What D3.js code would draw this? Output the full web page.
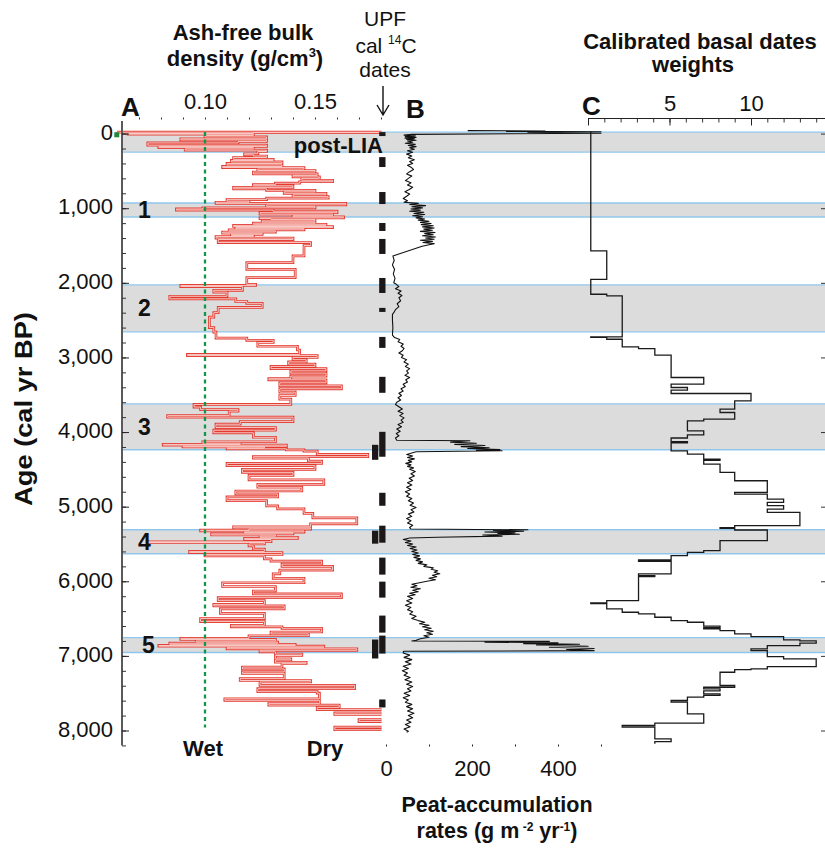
<!DOCTYPE html>
<html><head><meta charset="utf-8">
<script src="https://cdn.jsdelivr.net/npm/d3@7"></script>
<style>
body{margin:0;background:#fff;}
svg{display:block;font-family:"Liberation Sans",Arial,Helvetica,sans-serif;}
</style></head><body>
<svg id="chart" width="825" height="848"></svg>
<script>
// ---------------- DATA ----------------
const ageTicks = [0,1000,2000,3000,4000,5000,6000,7000,8000];
const densityTicks = [0.07,0.08,0.09,0.10,0.11,0.12,0.13,0.14,0.15,0.16,0.17,0.18];
const densityTickLabels = [0.10,0.15];
const rateTicks = [0,100,200,300,400,500];
const rateTickLabels = [0,200,400];
const weightTicks = [0,1,2,3,4,5,6,7,8,9,10,11,12,13,14];
const weightTickLabels = [5,10];
const wetDryThreshold = 0.10;

const bandNames = ["post-LIA","1","2","3","4","5"];
const bandStart = [-20, 930, 2028, 3622, 5310, 6755];
const bandEnd   = [248, 1118, 2657, 4238, 5631, 6955];

// [age cal yr BP, ash-free bulk density g/cm3] (step profile)
const bulkDensity = [
[-22,0.060],[-19,0.190],[-12,0.122],[-2,0.065],[8,0.122],[25,0.100],[45,0.128],[70,0.089],[85,0.128],[105,0.115],[125,0.074],[155,0.128],[172,0.079],[188,0.122],[205,0.091],[222,0.128],[240,0.124],
[270,0.118],[285,0.122],[300,0.128],[320,0.113],[345,0.131],[360,0.112],[380,0.135],[400,0.110],[420,0.135],[440,0.108],[455,0.145],[475,0.124],[495,0.150],[515,0.122],[540,0.151],[560,0.140],[580,0.152],[600,0.144],[625,0.158],[645,0.143],[665,0.132],[685,0.122],[700,0.140],[720,0.113],[740,0.128],[760,0.150],[780,0.136],[800,0.155],[820,0.140],[845,0.156],[865,0.128],[885,0.110],[905,0.120],
[920,0.105],[935,0.164],[955,0.128],[975,0.150],[995,0.099],[1010,0.087],[1025,0.131],[1040,0.160],[1060,0.125],[1080,0.158],[1100,0.140],[1115,0.163],[1130,0.125],
[1140,0.130],[1150,0.150],[1170,0.126],[1185,0.150],[1200,0.122],[1215,0.155],[1230,0.113],[1245,0.158],[1260,0.114],[1275,0.145],[1290,0.111],[1305,0.132],[1320,0.108],[1335,0.126],[1350,0.112],[1365,0.122],[1380,0.105],[1400,0.140],[1420,0.106],[1460,0.148],[1500,0.145],[1640,0.140],[1730,0.119],[1819,0.141],[1931,0.119],[2020,0.123],
[2035,0.089],[2050,0.117],[2100,0.104],[2125,0.110],[2180,0.084],[2215,0.114],[2250,0.119],[2275,0.126],[2330,0.106],[2400,0.104],[2460,0.102],[2600,0.104],[2660,0.105],[2740,0.119],[2770,0.131],[2800,0.124],[2850,0.142],[2900,0.143],[2960,0.092],[2975,0.151],[3000,0.140],[3030,0.146],[3060,0.138],[3090,0.150],[3120,0.130],[3150,0.155],[3180,0.139],
[3210,0.155],[3250,0.139],[3285,0.129],[3300,0.155],[3340,0.134],[3380,0.162],[3420,0.134],[3465,0.141],[3510,0.134],[3560,0.139],
[3630,0.095],[3665,0.098],[3700,0.115],[3720,0.111],[3780,0.083],[3800,0.140],[3860,0.116],[3895,0.105],[3940,0.132],[3975,0.104],[4010,0.122],[4070,0.132],[4130,0.099],[4150,0.116],[4165,0.081],[4175,0.137],[4190,0.090],[4200,0.127],[4215,0.110],[4225,0.137],[4240,0.145],
[4255,0.151],[4300,0.174],[4330,0.122],[4350,0.147],[4390,0.153],[4420,0.110],[4450,0.150],[4500,0.117],[4540,0.140],[4580,0.120],[4640,0.154],[4700,0.124],[4740,0.144],[4790,0.114],[4830,0.133],[4870,0.110],[4920,0.128],[4990,0.133],[5030,0.145],[5090,0.149],[5150,0.169],[5230,0.148],
[5270,0.113],[5285,0.148],[5300,0.120],[5315,0.098],[5325,0.145],[5340,0.118],[5350,0.140],[5365,0.103],[5380,0.132],[5395,0.125],[5410,0.142],[5425,0.118],[5440,0.130],[5470,0.074],[5480,0.127],[5500,0.120],[5525,0.122],[5570,0.127],[5600,0.093],[5615,0.135],[5640,0.100],[5660,0.127],
[5700,0.130],[5730,0.153],[5770,0.135],[5800,0.158],[5850,0.134],[5900,0.131],[5960,0.145],[6020,0.108],[6070,0.132],[6130,0.122],[6170,0.162],[6220,0.106],[6260,0.127],[6310,0.104],[6330,0.136],[6370,0.107],[6430,0.127],[6500,0.098],[6540,0.127],[6590,0.112],[6610,0.135],
[6630,0.153],[6680,0.130],[6705,0.147],[6730,0.120],
[6765,0.089],[6780,0.132],[6800,0.096],[6815,0.133],[6830,0.084],[6845,0.141],[6860,0.079],[6870,0.154],[6890,0.110],[6905,0.169],[6925,0.125],[6945,0.132],
[6975,0.144],[6995,0.132],[7040,0.139],[7055,0.132],[7085,0.146],[7100,0.135],[7150,0.117],[7175,0.136],[7215,0.117],[7235,0.136],[7305,0.116],[7330,0.148],[7350,0.125],[7395,0.168],[7440,0.124],[7480,0.151],[7500,0.152],[7575,0.109],[7595,0.152],[7640,0.129],[7660,0.161],[7690,0.151],[7720,0.185],[7765,0.159],[7785,0.190],[7855,0.170],[7880,0.190],[7955,0.159],[7990,0.190],[8000,0.190]
];

// [age, peat-accumulation rate g m-2 yr-1]
const peatRate = [
[-40,190],[-35,370],[-30,280],[-25,500],[-15,330],[-5,500],[10,60],[20,42],[30,68],[40,45],[50,70],[60,44],[70,66],[80,48],[90,70],[100,50],[115,62],[130,45],[145,68],[160,52],[175,70],[190,55],[210,66],[230,50],[250,62],[275,48],[300,60],[325,52],[350,66],[375,55],[400,62],[425,50],[450,58],[480,64],[510,55],[540,48],[570,60],[600,52],[630,45],[660,58],[690,50],[720,62],[750,54],[780,44],[810,55],[840,48],[870,40],[900,50],
[920,42],[935,75],[950,55],[965,92],[980,60],[995,85],[1010,58],[1025,80],[1040,55],[1055,88],[1070,65],[1085,90],[1100,62],[1115,85],[1130,70],[1145,90],[1160,75],[1175,100],[1190,80],[1205,105],[1220,82],[1235,110],[1250,85],[1265,112],[1280,88],[1295,108],[1310,80],[1325,114],[1340,90],[1355,110],[1370,85],[1385,115],[1400,92],[1415,112],[1430,80],[1445,108],[1460,86],[1475,112],[1490,100],[1510,84],
[1640,16],[1700,19],[1760,15],[1820,20],[1880,17],[1940,21],[2000,18],[2020,24],[2050,30],[2080,22],[2110,35],[2140,28],[2170,37],[2200,30],[2240,34],[2280,26],[2320,30],[2360,22],[2400,18],[2422,15],[2500,15],[2600,16],[2700,15],[2734,20],
[2760,32],[2790,28],[2820,40],[2850,35],[2880,42],[2910,38],[2940,30],[2970,40],[3000,36],[3030,48],[3060,42],[3090,52],[3120,45],[3150,55],[3180,48],[3210,52],[3240,44],[3270,55],[3300,46],[3330,50],[3360,40],[3390,45],[3420,35],[3450,40],[3480,30],[3510,36],[3540,28],[3570,34],[3600,25],[3630,22],[3660,30],[3690,38],[3720,28],[3750,40],[3780,32],[3810,42],[3840,35],[3870,40],[3900,28],[3930,36],[3960,25],[3990,33],[4020,24],[4050,30],[4080,22],[4110,25],
[4117,195],[4135,150],[4150,210],[4165,160],[4180,230],[4195,175],[4210,240],[4220,190],[4235,265],[4245,210],[4251,270],[4265,70],
[4280,60],[4300,48],[4320,62],[4340,50],[4360,66],[4380,52],[4400,60],[4420,46],[4440,58],[4460,50],[4480,64],[4500,55],[4530,68],[4560,58],[4590,66],[4620,54],[4650,62],[4680,50],[4710,60],[4740,48],[4770,58],[4800,45],[4830,55],[4860,48],[4890,60],[4920,52],[4950,64],[4980,56],[5010,70],[5040,58],[5070,65],[5100,52],[5130,60],[5160,48],[5190,58],[5220,50],[5250,62],[5280,55],[5300,58],
[5310,330],[5320,250],[5330,320],[5340,230],[5350,300],[5360,260],[5370,310],[5380,225],[5395,270],[5410,120],[5420,55],
[5440,40],[5460,58],[5480,45],[5500,62],[5520,50],[5540,70],[5560,56],[5580,72],[5600,60],[5620,75],[5640,62],[5660,78],[5680,65],[5700,80],[5720,70],[5740,85],[5760,75],[5780,95],[5800,88],[5820,110],[5840,105],[5860,120],[5880,112],[5900,125],[5920,108],[5940,118],[5960,100],[5980,115],[6000,95],[6020,78],
[6040,60],[6060,72],[6080,58],[6100,80],[6120,62],[6140,75],[6160,55],[6180,68],[6200,50],[6230,62],[6260,48],[6290,60],[6320,45],[6350,58],[6380,50],[6410,62],[6440,55],[6470,70],[6500,60],[6527,75],
[6550,90],[6570,78],[6590,100],[6610,85],[6630,105],[6650,90],[6670,110],[6690,95],[6710,108],[6730,88],[6750,100],[6770,80],[6790,70],
[6800,60],[6805,380],[6815,230],[6825,400],[6835,320],[6845,450],[6855,350],[6870,470],[6885,380],[6900,484],[6915,420],[6930,484],[6938,41],
[6960,40],[6990,55],[7020,42],[7050,60],[7080,45],[7110,58],[7140,40],[7170,52],[7200,38],[7230,50],[7260,42],[7290,56],[7320,44],[7350,60],[7380,48],[7410,62],[7440,50],[7470,58],[7500,42],[7530,55],[7560,40],[7590,52],[7620,45],[7650,60],[7680,48],[7710,62],[7740,50],[7770,65],[7800,52],[7830,62],[7860,48],[7890,58],[7920,45],[7950,56],[7980,42],[8010,52],[8022,48]
];

// [age, calibrated basal dates weight] (step profile)
const basalWeights = [
[-33,0.17],[1573,1.15],[1953,0.17],[2153,1.15],[2176,2.1],[2724,0.17],[2730,1.15],[2756,2.1],[2858,3.1],[2881,4.1],[2970,5.1],[3269,7.1],[3358,5.1],[3403,6.1],[3439,5.1],[3483,10.0],[3582,9.0],[3693,8.1],[3738,9.0],[3827,7.1],[3850,6.1],[3983,7.1],[4037,6.1],[4080,5.1],
[4130,6.1],[4145,5.1],[4251,6.1],[4296,7.1],[4362,8.1],[4380,7.1],[4429,8.1],[4541,9.0],[4653,11.0],[4809,9.0],[4831,11.0],[4898,12.0],[4943,11.0],[4987,12.0],[5032,11.0],[5077,13.0],[5255,9.0],[5280,8.1],[5290,9.0],[5313,11.0],[5456,8.1],[5590,7.1],[5612,6.1],[5657,5.1],[5715,3.1],[5733,5.1],[5902,3.1],[5924,4.1],[5938,3.1],
[6259,1.15],[6290,0.17],[6300,1.15],[6371,2.1],[6415,3.1],[6438,4.1],[6482,5.1],[6527,6.1],[6549,7.1],[6600,8.1],[6620,7.1],[6639,8.1],[6661,9.0],[6705,10.0],[6741,12.0],[6786,13.0],[6800,14.0],[6830,13.0],[6862,11.0],[6906,10.0],[6929,11.0],[7009,12.0],[7040,14.0],[7143,11.0],[7174,10.0],[7185,9.0],[7219,8.1],[7397,9.0],[7420,7.1],[7442,8.1],[7470,7.1],[7509,8.1],[7530,7.1],[7554,6.1],[7598,5.1],[7620,6.1],[7777,7.1],[7902,4.1],[7933,2.1],[7955,4.1],[8111,5.1],[8150,4.1],[8178,4.1]
];

// UPF calibrated 14C dates: [age range]
const upfDates = [[-20,33],[315,448],[783,944],[1198,1305],[1412,1613],[1935,2136],[2336,2390],[2725,2872],[3260,3474],[3997,4331],[4814,4988],[5255,5483],[5683,5911],[6005,6219],[6460,6688],[6728,6969],[7584,7691]];
const upfDatesSecond = [[4171,4372],[5322,5496],[6781,7035]];
const surfaceMarker = [[16,0.0599]];

// ---------------- SCALES ----------------
const svg = d3.select("#chart");
const FONT = '"Liberation Sans",Arial,Helvetica,sans-serif';
const y = d3.scaleLinear().domain([0,8000]).range([133.6,730.5]);
const xA = d3.scaleLinear().domain([0.10,0.15]).range([205,315]);
const xB = d3.scaleLinear().domain([0,500]).range([386,601]);
const xC = d3.scaleLinear().domain([0,10]).range([588,751]);
const xUPF = d3.scaleBand().domain(["second","main"]).range([372,385.5]).paddingInner(0.12);
const plotLeft = 122, plotRight = 825;

// ---------------- BANDS ----------------
const bands = bandNames.map((n,i)=>({name:n,s:bandStart[i],e:bandEnd[i]}));
const gB = svg.append("g");
gB.selectAll("rect").data(bands).join("rect")
  .attr("x",plotLeft).attr("width",plotRight-plotLeft)
  .attr("y",d=>y(d.s)).attr("height",d=>y(d.e)-y(d.s))
  .attr("fill","#dcdcdc");
const edges = bands.flatMap(d=>[d.s,d.e]);
gB.selectAll("line").data(edges).join("line")
  .attr("x1",plotLeft).attr("x2",plotRight)
  .attr("y1",d=>y(d)).attr("y2",d=>y(d))
  .attr("stroke","#8fc7ec").attr("stroke-width",1.4);

// ---------------- PANEL A ----------------
svg.append("clipPath").attr("id","clipA").append("rect")
  .attr("x",100).attr("y",100).attr("width",xA(0.18)+0.5-100).attr("height",700);
const lineA = d3.line().x(d=>xA(d[1])).y(d=>y(d[0])).curve(d3.curveStepBefore);
const gA = svg.append("g").attr("clip-path","url(#clipA)");
gA.append("path").attr("d",lineA(bulkDensity)).attr("fill","none")
  .attr("stroke","#e33a30").attr("stroke-width",2.7).attr("stroke-linejoin","miter");
gA.append("path").attr("d",lineA(bulkDensity)).attr("fill","none")
  .attr("stroke","#fbdcd8").attr("stroke-width",0.9);

// green wet/dry threshold line
svg.append("line").attr("x1",xA(wetDryThreshold)).attr("x2",xA(wetDryThreshold))
  .attr("y1",y(-20)).attr("y2",y(7960))
  .attr("stroke","#14964a").attr("stroke-width",2.3).attr("stroke-dasharray","4,3.5");
svg.selectAll(".gm").data(surfaceMarker).join("rect").attr("class","gm")
  .attr("x",d=>xA(d[1])-2.5).attr("y",d=>y(d[0])-2.5).attr("width",5).attr("height",5)
  .attr("fill","#23883a");

// ---------------- PANEL B ----------------
const lineB = d3.line().x(d=>xB(d[1])).y(d=>y(d[0]));
svg.append("path").attr("d",lineB(peatRate)).attr("fill","none")
  .attr("stroke","#111").attr("stroke-width",1.1).attr("stroke-linejoin","round");

// ---------------- PANEL C ----------------
const lineC = d3.line().x(d=>xC(d[1])).y(d=>y(d[0])).curve(d3.curveStepBefore);
svg.append("path").attr("d",lineC(basalWeights)).attr("fill","none")
  .attr("stroke","#1a1a1a").attr("stroke-width",1.3);

// ---------------- UPF dates ----------------
const gU = svg.append("g").attr("fill","#1c1818");
gU.selectAll(".u1").data(upfDates).join("rect").attr("class","u1")
  .attr("x",xUPF("main")).attr("width",xUPF.bandwidth())
  .attr("y",d=>y(d[0])).attr("height",d=>y(d[1])-y(d[0]));
gU.selectAll(".u2").data(upfDatesSecond).join("rect").attr("class","u2")
  .attr("x",xUPF("second")).attr("width",xUPF.bandwidth())
  .attr("y",d=>y(d[0])).attr("height",d=>y(d[1])-y(d[0]));

// ---------------- AXES ----------------
function styleAxis(g){
  g.attr("font-family",FONT).attr("font-size",22);
  g.selectAll("text").attr("fill","#111");
  g.selectAll(".tick line").attr("stroke","#222");
}
// y axis
svg.append("line").attr("x1",plotLeft).attr("x2",plotLeft)
  .attr("y1",y(-170)).attr("y2",y(8200)).attr("stroke","#5a5a5a").attr("stroke-width",2);
const gYmin = svg.append("g").attr("transform",`translate(${plotLeft},0)`)
  .call(d3.axisLeft(y).tickValues(d3.range(0,8201,200)).tickSize(-4).tickFormat(""));
gYmin.select(".domain").remove(); gYmin.selectAll(".tick line").attr("stroke","#333");
const gY = svg.append("g").attr("transform",`translate(${plotLeft},0)`)
  .call(d3.axisLeft(y).tickValues(ageTicks).tickFormat(d3.format(",")).tickSize(-7).tickPadding(9));
gY.select(".domain").remove(); styleAxis(gY);
gY.selectAll("text").attr("dy","0.26em");
// right edge ticks
const gR = svg.append("g").attr("transform",`translate(${plotRight},0)`)
  .call(d3.axisLeft(y).tickValues(ageTicks).tickSize(4).tickFormat(""));
gR.select(".domain").remove(); gR.selectAll(".tick line").attr("stroke","#333");

// A top axis (dotted ticks)
const gAx = svg.append("g").attr("transform","translate(0,119.5)")
  .call(d3.axisTop(xA).tickValues(densityTicks).tickSize(2).tickPadding(9)
    .tickFormat(d=>densityTickLabels.some(v=>Math.abs(v-d)<1e-9)?d3.format(".2f")(d):""));
gAx.select(".domain").remove(); styleAxis(gAx);
gAx.selectAll(".tick line").attr("stroke","#333");

// B bottom axis
const gBx = svg.append("g").attr("transform","translate(0,744.5)")
  .call(d3.axisBottom(xB).tickValues(rateTicks).tickSize(2).tickPadding(14)
    .tickFormat(d=>rateTickLabels.includes(d)?d:""));
gBx.select(".domain").remove(); styleAxis(gBx);
gBx.selectAll("text").attr("dy","0.71em");

// C top axis
const gCmin = svg.append("g").attr("transform","translate(0,118.5)")
  .call(d3.axisTop(xC).tickValues(weightTicks).tickSize(-4).tickSizeOuter(0).tickFormat(""));
gCmin.select(".domain").attr("d",`M${xC(0)},0H${plotRight}`).attr("stroke","#222").attr("stroke-width",1.2);
gCmin.selectAll(".tick line").attr("stroke","#333");
const gCx = svg.append("g").attr("transform","translate(0,118.5)")
  .call(d3.axisTop(xC).tickValues([0].concat(weightTickLabels)).tickSize(-7).tickPadding(7.5)
    .tickFormat(d=>weightTickLabels.includes(d)?d:""));
gCx.select(".domain").remove(); styleAxis(gCx);

// ---------------- TEXT ----------------
function txt(x,yy,s,size,weight,anchor){
  return svg.append("text").attr("x",x).attr("y",yy).attr("font-family",FONT)
    .attr("font-size",size).attr("font-weight",weight||"normal")
    .attr("text-anchor",anchor||"middle").attr("fill","#111").text(s);
}
// panel letters
txt(121,116,"A",26,"bold","start");
txt(406,118,"B",26,"bold","start");
txt(582,115,"C",26,"bold","start");

// header A
txt(243,40,"Ash-free bulk",22,"bold");
const dens = txt(245,66,"density (g/cm",22,"bold");
dens.append("tspan").attr("dy",-9).attr("font-size",13).text("3");
dens.append("tspan").attr("dy",9).text(")");

// UPF header
txt(385,26,"UPF",21);
const cal = txt(386,53,"cal ",21);
cal.append("tspan").attr("dy",-9).attr("font-size",12).text("14");
cal.append("tspan").attr("dy",9).text("C");
txt(385,77,"dates",21);
// arrow
svg.append("path").attr("d","M383,86V115M377,105L383,115L389,105")
  .attr("fill","none").attr("stroke","#111").attr("stroke-width",1.4);

// header C
txt(700,49,"Calibrated basal dates",22,"bold");
txt(693,72,"weights",22,"bold");

// bottom A
txt(203,756,"Wet",22,"bold");
txt(325,756,"Dry",22,"bold");

// bottom B
txt(497,812,"Peat-accumulation",21.5,"bold");
const rt = txt(497,838,"rates (g m",21.5,"bold");
rt.append("tspan").attr("dy",-7).attr("font-size",12).text(" -2");
rt.append("tspan").attr("dy",7).text(" yr");
rt.append("tspan").attr("dy",-7).attr("font-size",12).text("-1");
rt.append("tspan").attr("dy",7).text(")");

// band labels
bands.forEach(b=>{
  if(b.name==="post-LIA"){
    txt(383,153,b.name,22,"bold","end");
  } else {
    txt(b.name==="5"?142:138,(y(b.s)+y(b.e))/2,b.name,23,"bold","start")
      .attr("dominant-baseline","central");
  }
});

// y title
svg.append("text").attr("transform","translate(32,409) rotate(-90) scale(1.16,1)")
  .attr("font-family",FONT).attr("font-size",23.5).attr("font-weight","bold")
  .attr("text-anchor","middle").attr("fill","#111").text("Age (cal yr BP)");
</script>
</body></html>
